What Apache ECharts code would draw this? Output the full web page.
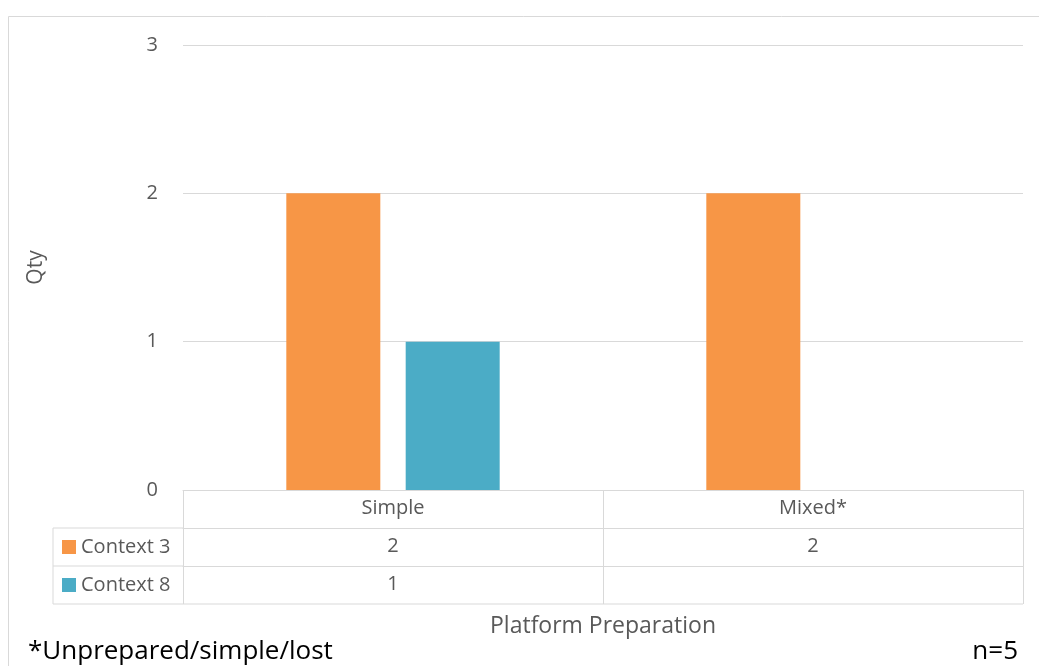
<!DOCTYPE html>
<html>
<head>
<meta charset="utf-8">
<script src="https://cdn.jsdelivr.net/npm/echarts@6/dist/echarts.min.js"></script>
<style>html,body{margin:0;padding:0;background:#fff}#c{width:1039px;height:666px}</style>
</head>
<body>
<div id="c"></div>
<script>
const categories = ['Simple', 'Mixed*'];
const seriesNames = ['Context 3', 'Context 8'];
const context3 = [2, 2];
const context8 = [1, null];
const yTicks = [0, 1, 2, 3];
const xTitle = 'Platform Preparation';
const yTitle = 'Qty';
const footLeft = '*Unprepared/simple/lost';
const footRight = 'n=5';

const FONT = '"Open Sans", "Noto Sans", sans-serif';
const GRAY = '#595959';
const LINE = '#d9d9d9';
const colors = ['#F79646', '#4BACC6'];

const G = {left: 183, right: 16, top: 45, bottom: 176};
const ROW = 38;
const tableLeft = 53;
const tableRight = 1039 - G.right;
const y0 = 666 - G.bottom;
const FS = 20;

const chart = echarts.init(document.getElementById('c'), null, {renderer: 'canvas'});

function tableAxis(values, offset) {
  return {
    type: 'category',
    data: categories,
    position: 'bottom',
    offset: offset,
    gridIndex: 0,
    axisLine: {show: true, lineStyle: {color: LINE, width: 1}},
    axisTick: {show: true, length: ROW, lineStyle: {color: LINE, width: 1}},
    axisLabel: {
      show: true, margin: 8, color: GRAY, fontSize: FS, fontFamily: FONT,
      formatter: function (v, i) { return values[i] == null ? '' : String(values[i]); }
    },
    splitLine: {show: false}
  };
}

const graphics = [
  {type: 'polyline', silent: true, shape: {points: [[8.5, 666], [8.5, 16.5], [1039, 16.5]]}, style: {stroke: LINE, fill: null, lineWidth: 1}},
  {type: 'line', shape: {x1: tableLeft, y1: y0 + ROW, x2: G.left, y2: y0 + ROW}, style: {stroke: LINE, lineWidth: 1}},
  {type: 'line', shape: {x1: tableLeft, y1: y0 + 2 * ROW, x2: G.left, y2: y0 + 2 * ROW}, style: {stroke: LINE, lineWidth: 1}},
  {type: 'line', shape: {x1: tableLeft, y1: y0 + 3 * ROW, x2: tableRight, y2: y0 + 3 * ROW}, style: {stroke: LINE, lineWidth: 1}},
  {type: 'line', shape: {x1: tableLeft, y1: y0 + ROW, x2: tableLeft, y2: y0 + 3 * ROW}, style: {stroke: LINE, lineWidth: 1}},
  {type: 'text', x: 28, y: 652, style: {text: footLeft, fill: '#000', font: '26px ' + FONT, verticalAlign: 'middle', align: 'left'}},
  {type: 'text', x: 1018, y: 652, style: {text: footRight, fill: '#000', font: '26px ' + FONT, verticalAlign: 'middle', align: 'right'}}
];
seriesNames.forEach(function (n, i) {
  const cy = y0 + ROW * (i + 1) + ROW / 2;
  graphics.push({type: 'rect', shape: {x: 62, y: cy - 7, width: 14, height: 14}, style: {fill: colors[i]}});
  graphics.push({type: 'text', x: 81, y: cy, style: {text: n, fill: GRAY, font: FS + 'px ' + FONT, verticalAlign: 'middle', align: 'left'}});
});

chart.setOption({
  animation: false,
  backgroundColor: '#fff',
  textStyle: {fontFamily: FONT},
  grid: {left: G.left, right: G.right, top: G.top, bottom: G.bottom, containLabel: false},
  xAxis: [
    {
      type: 'category',
      data: categories,
      position: 'bottom',
      axisLine: {show: true, lineStyle: {color: LINE, width: 1}},
      axisTick: {show: true, length: ROW, lineStyle: {color: LINE, width: 1}},
      axisLabel: {margin: 8, color: GRAY, fontSize: FS, fontFamily: FONT},
      name: xTitle,
      nameLocation: 'middle',
      nameGap: 125,
      nameTextStyle: {color: GRAY, fontSize: 23, fontFamily: FONT}
    },
    tableAxis(context3, ROW),
    tableAxis(context8, 2 * ROW)
  ],
  yAxis: {
    type: 'value',
    min: yTicks[0],
    max: yTicks[yTicks.length - 1],
    interval: 1,
    axisLine: {show: false},
    axisTick: {show: false},
    axisLabel: {margin: 25, color: GRAY, fontSize: FS, fontFamily: FONT},
    splitLine: {lineStyle: {color: LINE, width: 1}},
    name: yTitle,
    nameLocation: 'middle',
    nameGap: 136,
    nameTextStyle: {color: GRAY, fontSize: 21, fontFamily: FONT}
  },
  series: [
    {name: seriesNames[0], type: 'bar', data: context3, xAxisIndex: 0, barWidth: 94, barGap: '27%', itemStyle: {color: colors[0]}},
    {name: seriesNames[1], type: 'bar', data: context8, xAxisIndex: 0, barWidth: 94, barGap: '27%', itemStyle: {color: colors[1]}}
  ],
  graphic: graphics
});
</script>
</body>
</html>
